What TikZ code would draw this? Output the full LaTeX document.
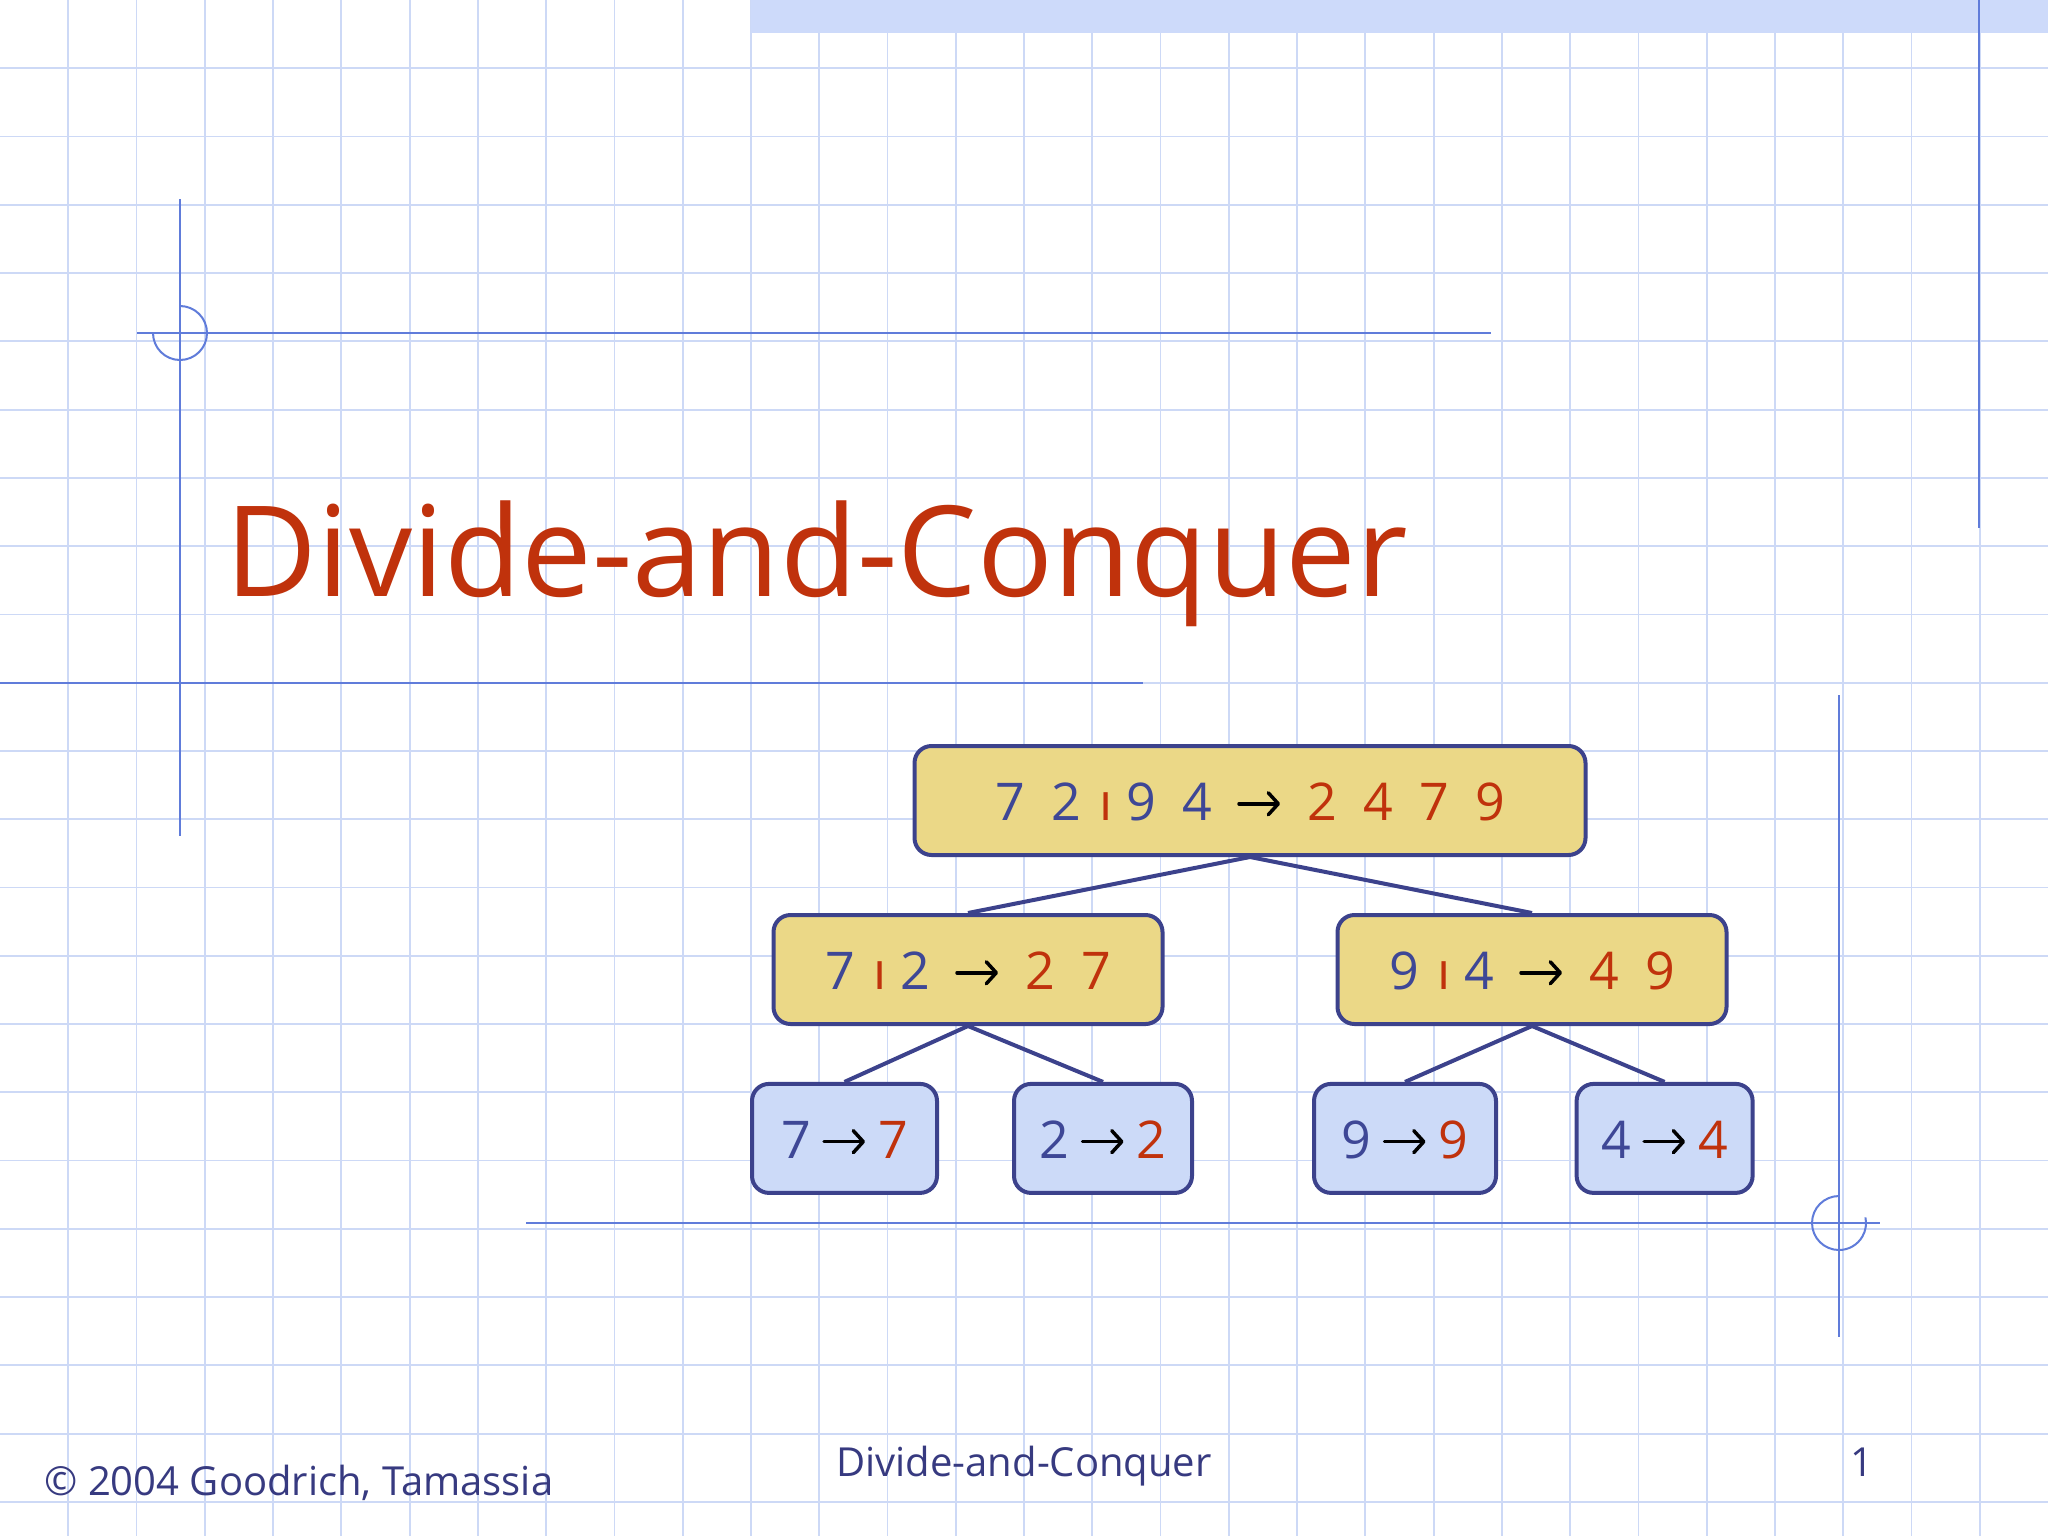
\documentclass[tikz,border=0pt]{standalone}
\usepackage{fontspec}
\usetikzlibrary{arrows.meta}
\setmainfont{Open Sans}
\definecolor{gridc}{RGB}{205,217,246}
\definecolor{bandc}{RGB}{205,218,250}
\definecolor{accent}{RGB}{96,124,218}
\definecolor{dred}{RGB}{192,50,12}
\definecolor{dblue}{RGB}{62,71,150}
\definecolor{boxline}{RGB}{60,66,140}
\definecolor{yel}{RGB}{235,216,135}
\definecolor{leafc}{RGB}{204,218,248}
\definecolor{footc}{RGB}{55,58,128}
\newcommand\dgB[1]{\makebox[28pt][c]{\color{dblue}#1}}
\newcommand\dgR[1]{\makebox[28pt][c]{\color{dred}#1}}
\newcommand\lfB[1]{\makebox[15pt][c]{\color{dblue}#1}}
\newcommand\lfR[1]{\makebox[15pt][c]{\color{dred}#1}}
\newcommand\splitbar{\makebox[9.5pt][c]{\hspace{3pt}\color{dred}ı}}
\newcommand\myarr[1]{\makebox[#1][c]{\raisebox{2pt}{\tikz[x=1pt,y=1pt,sharp corners]{\draw[draw=black, line width=1.75pt, line cap=round, line join=round, -{Straight Barb[length=5pt,width=11pt,line cap=round,line join=round]}] (0,5.5) -- (20.5,5.5);\path (0,0) (0,11);}}}}
\tikzset{
  gridline/.style={draw=gridc, line width=0.9pt},
  accline/.style={draw=accent, line width=1pt},
  sortbox/.style={draw=boxline, line width=2pt, rounded corners=8.5pt, inner sep=0pt,
    minimum height=54.5pt, text height=20pt, text depth=0pt,
    font=\fontsize{26}{26}\selectfont},
  midbox/.style={sortbox, fill=yel},
  leafbox/.style={sortbox, fill=leafc},
  conn/.style={draw=boxline, line width=2pt},
  foot/.style={inner sep=0pt, text=footc, font=\fontsize{20}{22}\selectfont}
}
\begin{document}
\begin{tikzpicture}[x=0.5pt,y=-0.5pt]
\useasboundingbox (0,0) rectangle (2048,1536);
\fill[white] (0,0) rectangle (2048,1536);
% grid
\foreach \k in {1,...,29} \draw[gridline] ({\k*68.2667},0) -- ({\k*68.2667},1536);
\foreach \k in {1,...,22} \draw[gridline] (0,{\k*68.2667}) -- (2048,{\k*68.2667});
% top band
\fill[bandc] (751,0) rectangle (2048,33);
% accent lines
\draw[accline] (180,199) -- (180,836);
\draw[accline] (137,333) -- (1491,333);
\draw[accline] (180,333) ++(-90:27) arc[start angle=-90, end angle=180, radius=27];
\draw[accline] (0,683) -- (1143,683);
\draw[accline] (1979,0) -- (1979,528);
\draw[accline] (1839,695) -- (1839,1337);
\draw[accline] (526,1223) -- (1880,1223);
\draw[accline] (1839,1223) ++(-90:27) arc[start angle=-90, end angle=-372, radius=27];
% title
\node[anchor=base west, inner sep=0pt, text=dred, font=\fontsize{63}{70}\selectfont] (title) at (225,596) {Divide-and-Conquer};
% nodes
\node[midbox, minimum width=335.5pt] (top) at (1250,800.5)
  {\dgB{7}\dgB{2}\splitbar\dgB{9}\dgB{4}\myarr{34.5pt}\dgR{2}\dgR{4}\dgR{7}\dgR{9}};
\node[midbox, minimum width=194.5pt] (ml) at (968,969.5)
  {\dgB{7}\splitbar\dgB{2}\myarr{34.5pt}\dgR{2}\dgR{7}};
\node[midbox, minimum width=194.5pt] (mr) at (1532,969.5)
  {\dgB{9}\splitbar\dgB{4}\myarr{34.5pt}\dgR{4}\dgR{9}};
\node[leafbox, minimum width=92.5pt] (l1) at (844.5,1138.4) {\lfB{7}\myarr{33.5pt}\lfR{7}};
\node[leafbox, minimum width=89pt] (l2) at (1103,1138.4) {\lfB{2}\myarr{33.5pt}\lfR{2}};
\node[leafbox, minimum width=91pt] (l3) at (1405,1138.4) {\lfB{9}\myarr{33.5pt}\lfR{9}};
\node[leafbox, minimum width=88pt] (l4) at (1664.6,1138.4) {\lfB{4}\myarr{33.5pt}\lfR{4}};
% connectors
\draw[conn] (top.south) -- (ml.north);
\draw[conn] (top.south) -- (mr.north);
\draw[conn] (ml.south) -- (l1.north);
\draw[conn] (ml.south) -- (l2.north);
\draw[conn] (mr.south) -- (l3.north);
\draw[conn] (mr.south) -- (l4.north);
% footer
\node[foot, anchor=base west] (copy) at (44,1495) {© 2004 Goodrich, Tamassia};
\node[foot, anchor=base] (ftitle) at (1024,1476) {Divide-and-Conquer};
\node[foot, anchor=base] (pnum) at (1862,1476) {1};
\end{tikzpicture}
\end{document}
